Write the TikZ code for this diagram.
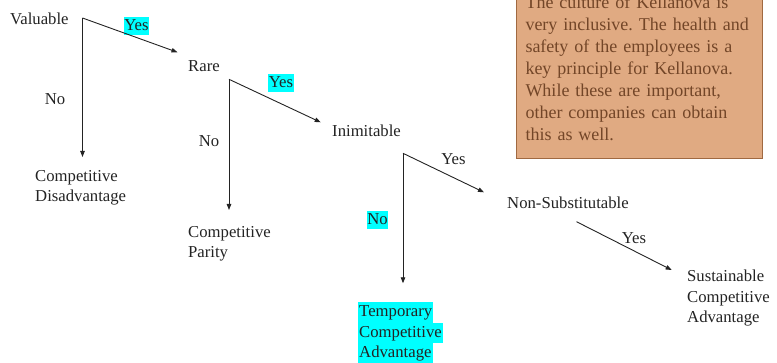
\documentclass[tikz,border=0pt]{standalone}
\usepackage{fontspec}
\setmainfont{Liberation Serif}
\usetikzlibrary{arrows.meta, positioning}
\definecolor{hilite}{RGB}{0,255,255}
\definecolor{notefill}{RGB}{224,170,130}
\definecolor{notedraw}{RGB}{160,105,65}
\definecolor{notetext}{RGB}{115,70,40}
\definecolor{ink}{RGB}{35,35,35}
\frenchspacing
\newcommand{\hlt}[1]{{\setlength{\fboxsep}{0pt}\colorbox{hilite}{\strut\hspace{1pt}#1\hspace{1pt}}}}
\tikzset{
  term/.style={anchor=west, inner sep=0pt, text=ink,
    font=\fontsize{16.7}{20.5}\selectfont},
  outcome/.style={anchor=north west, inner sep=0pt, align=left, text=ink,
    font=\fontsize{16.7}{20.5}\selectfont},
  answer/.style={inner sep=0pt, text=ink, font=\fontsize{16.7}{20.5}\selectfont},
  hiyes/.style={fill=hilite, inner xsep=0.5pt, inner ysep=0pt, text height=13pt,
    text depth=5pt, text=ink, font=\fontsize{16.7}{20.5}\selectfont},
  arrow/.style={-{Triangle[length=6pt,width=4.5pt]}, line width=0.9pt, color=ink},
  notebox/.style={rectangle, draw=notedraw, line width=1pt, fill=notefill,
    text=notetext, align=left, text width=228pt, inner xsep=9pt, inner ysep=18pt,
    font=\fontsize{18}{22}\selectfont},
}

\begin{document}
\begin{tikzpicture}[x=1pt, y=-1pt]
  \useasboundingbox (0,0) rectangle (777,363);
  \clip (0,0) rectangle (777,363);

  % note box, cut at the top
  \node[notebox, anchor=south west] (note) at (516,159)
    {The culture of Kellanova is\\very inclusive. The health and\\safety of the employees is a\\key principle for Kellanova.\\While these are important,\\other companies can obtain\\this as well.};

  % valuable
  \node[term]    (val)  at (10,19)      {Valuable};
  \coordinate    (c1)   at (82.5,18);
  \coordinate    (t1)   at (177.5,52.3);
  \coordinate    (d1)   at (82.5,157);
  \node[hiyes]   (y1)   at (136.5,26.5) {Yes};
  \node[answer]  (n1)   at (55,99)      {No};
  \node[outcome] (dis)  at (35,170)     {Competitive\\Disadvantage};

  % rare
  \node[term]    (rare) at (188,66)     {Rare};
  \coordinate    (c2)   at (229,79.3);
  \coordinate    (t2)   at (320.7,122.3);
  \coordinate    (d2)   at (229,210);
  \node[hiyes]   (y2)   at (281,83.5)   {Yes};
  \node[answer]  (n2)   at (209,141)    {No};
  \node[outcome] (par)  at (188,226)    {Competitive\\Parity};

  % inimitable
  \node[term]    (inim) at (332,130.7)  {Inimitable};
  \coordinate    (c3)   at (403,153.3);
  \coordinate    (t3)   at (484,192.3);
  \coordinate    (d3)   at (403,283.3);
  \node[answer]  (y3)   at (453.5,159)  {Yes};
  \node[hiyes]   (n3)   at (377.5,220.5){No};
  \node[outcome] (temp) at (358,302)    {\hlt{Temporary}\\\hlt{Competitive}\\\hlt{Advantage}};

  % non-substitutable
  \node[term]    (nons) at (507,203)    {Non-Substitutable};
  \coordinate    (s4)   at (576.5,221.7);
  \coordinate    (t4)   at (671.7,270);
  \node[answer]  (y4)   at (634,238)    {Yes};
  \node[outcome] (sus)  at (687,270)    {Sustainable\\Competitive\\Advantage};

  \draw[arrow](c1)--(t1);
  \draw[arrow](c1)--(d1);
  \draw[arrow](c2)--(t2);
  \draw[arrow](c2)--(d2);
  \draw[arrow](c3)--(t3);
  \draw[arrow](c3)--(d3);
  \draw[arrow](s4)--(t4);
\end{tikzpicture}
\end{document}
